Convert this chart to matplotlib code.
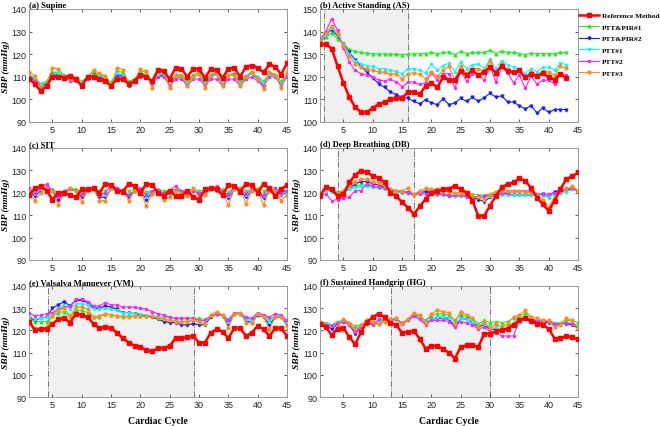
import numpy as np
import matplotlib
matplotlib.use("Agg")
import matplotlib.pyplot as plt

cycle = np.arange(1, 46)
cycle_b = np.arange(1, 44)

# (a) Supine
a_ref = [109, 107, 103.5, 106, 110, 110, 109.5, 110.5, 109, 106, 110, 110, 109, 108, 106, 109, 109, 107, 108, 111,
         110, 108, 113, 112.5, 109, 114, 113.5, 110, 113.5, 113.5, 109.5, 113.5, 113, 109.5, 113.5, 114, 110, 114.5, 115, 114,
         112, 115.5, 114.5, 111, 116]
a_pir1 = [111, 109.5, 107, 108, 112, 112, 111, 110, 109.5, 108, 110, 112, 111, 110, 107.5, 112.5, 112, 108, 109, 112.5,
          112, 108, 112, 111.5, 108, 111, 111, 108, 111, 112, 108, 111, 111.5, 108.5, 111, 111.5, 108, 110.5, 112, 110,
          108, 111.5, 111, 108, 111]
a_pir2 = [110, 108.5, 106, 107, 111, 111, 110, 109, 108.5, 106.5, 109.5, 111, 110, 109, 106.5, 111, 110.5, 106.5, 108, 111,
          110.5, 107, 110.5, 110.5, 106.5, 110, 110, 106.5, 110, 111, 106.5, 110.5, 111, 107, 110.5, 111, 106.5, 110, 111.5, 109,
          106, 111, 110.5, 106.5, 110.5]
a_ptt1 = [110.5, 109, 106.5, 107.5, 111, 111.5, 110.5, 109.5, 109, 107, 109.5, 111, 110.5, 109.5, 107, 111.5, 111, 107, 108.5, 111.5,
          111, 107.5, 111, 111, 107, 110, 110.5, 107, 110, 111, 107, 110.5, 111, 107.5, 110.5, 111, 107, 110, 111.5, 109.5,
          107, 111, 110.5, 107, 110.5]
a_ptt2 = [110, 108, 105.5, 106.5, 110.5, 110.5, 110, 108, 108, 106, 109, 110, 109.5, 108, 106, 110, 110, 106, 108, 110,
          110, 107, 110, 110, 106, 109, 109, 106, 109, 109, 106, 109, 109, 106, 109, 109, 106, 109, 110, 108,
          106, 110, 110, 106, 110]
a_ptt3 = [112, 110.5, 105, 107, 114, 113.5, 110.5, 109, 109, 106, 110, 113, 111.5, 110.5, 106, 114, 113, 107, 108.5, 113.5,
          112.5, 105, 113, 112, 105, 111, 110.5, 106, 110, 111.5, 105, 111, 112, 106, 111, 111, 106, 110, 112, 109,
          104.5, 112, 111, 105, 112]

# (b) Active Standing
b_ref = [134.4, 134.4, 132.5, 124.7, 117.3, 111, 106.6, 104.3, 104.3, 106.2, 107.9, 108.8, 110, 110.4, 110.5, 113.2, 113.4, 112.3, 115.9, 117.3,
         115.3, 119.9, 118.8, 118.5, 122.4, 120.7, 122.8, 120.7, 122.1, 124.3, 121.7, 125, 122.4, 122.1, 122.8, 119.7, 121.4, 120.2, 121.7, 119.7,
         118.8, 121.1, 119.5]
b_pir1 = [135.5, 137.6, 139.5, 136.6, 134.4, 132.2, 131.2, 130.8, 130.5, 130.3, 130.1, 130.1, 130.1, 130, 129.8, 130.1, 130.1, 130.1, 130.3, 130.8,
          130.1, 130.8, 131, 129.8, 131.2, 130.3, 130.8, 130.8, 130.8, 131.8, 130.3, 131.5, 130.8, 130.8, 130.3, 129.8, 130.5, 130.1, 130.3, 130.1,
          130.3, 130.8, 130.8]
b_pir2 = [135.5, 138.7, 140.9, 138, 134.4, 130.8, 127.6, 124.7, 122.1, 119.5, 117, 115.3, 113.4, 112, 111, 110.5, 109.1, 108.1, 109.8, 108.4,
          107.7, 110.3, 107.7, 108.4, 110.5, 109.1, 111, 109.1, 110.8, 112.7, 111, 111.6, 108.8, 108.8, 107.2, 105.8, 107.2, 104, 106.2, 104.3,
          105.5, 105.5, 105.5]
b_ptt1 = [135.5, 138.7, 141.6, 138.7, 134.4, 130, 127.2, 125.7, 125, 124.6, 123.6, 123.6, 122.8, 122.5, 121.4, 123.6, 123.6, 122.8, 121.7, 125.7,
          122.8, 125, 126, 122.1, 126.7, 123.6, 125.3, 125.7, 123.6, 127.9, 123.6, 127.2, 125.3, 124.3, 123.6, 121.4, 123.6, 122.1, 124.3, 124.3,
          122.8, 126, 125.4]
b_ptt2 = [136.6, 140.2, 145.7, 140.5, 132.9, 126.4, 122.8, 121.4, 120.7, 119.9, 118.5, 118.2, 118.9, 117.8, 115.6, 117.5, 117.8, 116.6, 117.3, 121.7,
          118.5, 121.4, 121.4, 114.9, 122.5, 118.1, 121.4, 121.1, 118.5, 124.6, 117.8, 124.3, 121.7, 117.3, 120.7, 114.9, 120.2, 116.8, 118.5, 118.5,
          116.8, 121.1, 120.7]
b_ptt3 = [135.8, 139.5, 142.3, 139.5, 133.7, 129, 125.7, 124.3, 123.6, 122.8, 122.1, 122.1, 121.1, 121.4, 119.2, 121.4, 121.8, 121.1, 119.2, 122.1,
          120.2, 122.8, 124.7, 118.5, 125, 121.4, 123.6, 123.6, 122.5, 127.2, 121.4, 125.7, 123.3, 122.1, 123.1, 119.5, 122.1, 120.7, 122.4, 122.1,
          120.7, 124.6, 124]

# (c) SIT
c_ref = [119, 122, 123, 121, 117, 120, 120, 119, 118, 121.5, 121.5, 122, 120, 124, 123.5, 121, 120.5, 124, 123, 120,
         124, 123.5, 120, 118.5, 121, 118.5, 118.5, 121, 118, 117, 121.5, 122, 121.5, 119, 123.5, 123, 120.5, 124, 123.5, 120,
         124, 122, 118.5, 121.5, 123.5]
c_pir1 = [121, 121, 121.5, 122, 121.5, 120, 121, 122, 121.5, 120.5, 121.5, 122, 121, 121, 122, 121.5, 121.5, 121, 121.5, 121.5,
          120.5, 121, 121.5, 121, 121, 121.5, 121, 121, 121.5, 121, 121, 122, 122, 121.5, 120.5, 122, 122, 121, 121.5, 122,
          121, 121.5, 121.5, 121, 121]
c_pir2 = [121, 118.5, 121, 122, 121, 117, 120, 121.5, 121, 118, 121, 121.5, 118, 118, 121.5, 121, 121, 118, 120.5, 121,
          117, 120, 121, 119, 119.5, 121, 120.5, 119.5, 121, 119.5, 120, 121.5, 121.5, 120.5, 117.5, 121.5, 121.5, 118, 121, 121,
          117.5, 121, 121, 119, 120.5]
c_ptt1 = [121.5, 119.5, 121.5, 122, 121, 118, 120.5, 121.5, 121, 119, 121.5, 121.5, 119, 119, 121.5, 121, 121, 119, 120.5, 121,
          118, 120.5, 121, 119.5, 120, 121, 120.5, 120, 121, 120, 120.5, 121.5, 121.5, 121, 118.5, 121.5, 121.5, 119, 121, 121,
          118.5, 121, 121, 119.5, 120.5]
c_ptt2 = [122, 120, 122, 124, 121, 118, 121, 121.5, 121, 119, 122, 121.5, 119, 120, 123.5, 122, 121, 119, 121, 122,
          119, 121, 121, 120, 121, 123, 121, 120, 121, 120, 120, 122, 123, 121, 119, 122.5, 122, 119.5, 121.5, 121,
          119, 122.5, 122, 120, 121]
c_ptt3 = [121, 116.5, 120, 122, 121, 114.5, 119.5, 122, 121, 116, 121, 122, 116.5, 116.5, 122, 121, 121, 116.5, 121, 121,
          114, 119.5, 121, 117, 118, 121, 120, 118.5, 122, 118, 119, 122, 121, 120, 114.5, 121.5, 122, 115, 121, 121.5,
          114.5, 121, 121, 116.5, 119]

# (d) Deep Breathing
d_ref = [118.7, 122.7, 121.6, 118.4, 119.4, 124.6, 127.9, 129.9, 129.1, 127.6, 126.6, 124.6, 120.1, 118.7, 115.7, 113.4, 110.4, 113.9, 117.2, 120.1,
         120.9, 121.6, 121.9, 123.1, 121.6, 120.1, 116.4, 109.7, 109.7, 114.2, 118.7, 122.4, 123.9, 124.6, 126.4, 125.4, 122.1, 117.9, 114.9, 111.9,
         116.4, 121.6, 126.1, 127.3, 129.1]
d_pir1 = [119, 121.5, 121, 120, 120.5, 122, 123, 123.5, 123.5, 123, 122.5, 122, 121.5, 121, 120.5, 120.5, 119.5, 120.5, 121, 121,
          121, 120.5, 120.5, 120, 120, 120, 119.5, 119, 119, 119.5, 120.5, 121, 121, 121, 121, 120.5, 120, 119.5, 119, 118,
          119.5, 120.5, 121, 122, 121]
d_pir2 = [119, 122, 121, 120, 120, 122, 124, 125, 125, 124, 123.5, 122.5, 121, 120.5, 120.5, 120, 119, 120, 120.5, 120,
          119.5, 119, 118.5, 118.5, 118.5, 118.5, 118, 117, 116, 118, 119, 119.5, 119.5, 119, 119, 119, 119, 119, 119.5, 118.5,
          120.5, 121, 121, 122, 120.5]
d_ptt1 = [119, 121, 120.5, 119.5, 120, 121.5, 122.5, 123, 123, 122.5, 122, 121.5, 121, 120.5, 120, 120, 119.5, 119.5, 119.5, 119.5,
          119, 119, 119, 118.5, 118.5, 118.5, 118.5, 118, 118, 118.5, 119, 119, 119, 119, 119, 119, 119, 119, 119, 118.5,
          119.5, 120, 120.5, 121.5, 121]
d_ptt2 = [119, 119.5, 116.5, 117, 117.5, 118, 121, 121, 124, 123, 122.5, 122, 121.5, 121, 120.5, 120, 119.5, 119.5, 119.5, 119.5,
          119.5, 119.5, 119, 119, 119, 118, 117.5, 118.5, 118.5, 119, 119.5, 120, 120, 120.5, 120.5, 121, 120.5, 119.5, 119.5, 119.5,
          120, 120.5, 122, 122, 121]
d_ptt3 = [119, 122, 121.5, 120, 121, 123, 125, 126, 126, 125, 124.5, 123, 121.5, 121, 121, 122, 119, 121, 122, 121.5,
          121.5, 121, 120.5, 120, 120, 119.5, 118.5, 118, 117, 119, 120.5, 121, 121, 121, 121, 120.5, 120, 119, 117, 113.5,
          118, 121, 121.5, 123, 121]

# (e) Valsalva Manuever
e_ref = [124, 120, 120.5, 120.5, 123, 125, 125.5, 123.5, 127.5, 127, 126, 123, 121, 121.5, 121, 119, 116.5, 114.5, 113, 112.5,
         111, 110.5, 112, 112, 113, 116.5, 116.5, 117, 117.5, 114.5, 114.5, 119, 120.5, 119.5, 116.5, 121, 121, 117.5, 119, 122,
         120.5, 117.5, 121, 121, 117.5]
e_pir1 = [125.5, 124, 124, 124, 126.5, 128, 128.5, 126, 129, 129, 128, 126, 126, 127.5, 127, 126.5, 126.5, 126.5, 126.5, 126.5,
          126.5, 126.5, 126, 126, 126, 125.5, 125.5, 125.5, 125.5, 125.5, 125, 126.5, 127.5, 126.5, 125, 127.5, 127.5, 125.5, 125, 127,
          126.5, 125, 126.5, 126.5, 124.5]
e_pir2 = [126, 124.5, 125.5, 126, 130, 131.5, 133, 131, 133.5, 133.5, 132.5, 130, 130, 131, 130.5, 129.5, 128, 128, 127.5, 127,
          126.5, 126, 125, 124, 123.5, 123.5, 122.5, 122.5, 123, 122.5, 122.5, 126, 127.5, 126.5, 123, 127.5, 127.5, 124.5, 123.5, 127,
          126, 122.5, 126, 126, 123]
e_ptt1 = [126.5, 125, 125.5, 126, 128, 130, 131.5, 129.5, 132, 132, 131.5, 129.5, 129.5, 130, 129.5, 129, 128, 128, 127.5, 127.5,
          127, 126.5, 126, 125, 124.5, 124.5, 124, 124, 124.5, 124, 123.5, 126.5, 127.5, 126.5, 124, 127.5, 127.5, 125, 124.5, 127.5,
          126.5, 124, 126.5, 126.5, 124]
e_ptt2 = [128, 126.5, 127, 127.5, 128, 129.5, 130.5, 131, 134, 134, 133, 131, 131, 132.5, 131.5, 131.5, 130.5, 130.5, 130.5, 130,
          129.5, 128.5, 127.5, 127, 126, 125.5, 125.5, 125.5, 125.5, 124.5, 124.5, 126.5, 127.5, 127, 124.5, 128, 128, 126, 125.5, 128,
          127, 126, 127.5, 127, 124.5]
e_ptt3 = [125, 121, 121, 121.5, 127, 129, 130, 126.5, 130.5, 130.5, 129.5, 126, 126.5, 127.5, 127, 126.5, 126, 126, 126.5, 126.5,
          126.5, 126.5, 125.5, 125, 124.5, 124, 124, 124, 124.5, 124, 123, 127, 128.5, 127, 121, 127.5, 128, 123.5, 123.5, 127.5,
          126, 120.5, 126, 126, 122]

# (f) Sustained Handgrip
f_ref = [123, 121.5, 117.8, 120.8, 121.1, 117, 113.7, 119.3, 123.8, 126, 127.5, 126, 123.3, 122.6, 118.8, 119.3, 119.6, 116.3, 111.8, 113,
         113, 111.5, 110, 107.3, 112.5, 113.3, 113.3, 112.5, 118.5, 118.5, 119.6, 120, 120.8, 122.6, 124.5, 125.6, 124.1, 123, 122.3, 120.8,
         116.3, 116.6, 117.3, 117, 116]
f_pir1 = [124, 123.5, 122.5, 124, 124.5, 123.5, 122, 122.5, 124, 123.5, 124, 124.5, 125, 125, 123.5, 125, 127, 126.5, 124.5, 127,
          127.5, 127.5, 127, 124.5, 127.5, 126, 125.5, 123, 124.5, 123.5, 124, 123.5, 124, 125.5, 126, 128, 125.5, 124.5, 124.5, 124.5,
          123.5, 123.5, 124.5, 124.5, 123.5]
f_pir2 = [123.5, 122.5, 120.5, 123, 124, 122.5, 118.5, 121.5, 123, 123, 123, 124, 124.5, 125, 123, 124.5, 126.5, 125.5, 123, 125,
          125.5, 125.5, 125, 121.5, 125.5, 125, 123.5, 121.5, 122.5, 120.5, 120.5, 120, 120.5, 122.5, 124.5, 125, 124, 124, 123.5, 123.5,
          122.5, 123, 123, 122.5, 121]
f_ptt1 = [124, 123, 122, 123.5, 124, 123, 120, 122, 123.5, 123.5, 123.5, 124, 124.5, 125, 123.5, 124.5, 126.5, 125.5, 123.5, 125,
          126, 126, 125.5, 123, 125.5, 125, 124, 122, 123, 121.5, 121.5, 122, 122, 123.5, 125, 126, 125, 124.5, 124, 124,
          123, 123.5, 123.5, 123, 122]
f_ptt2 = [124, 122.5, 122, 123.5, 124, 122.5, 119.5, 121.5, 123.5, 122.5, 125, 124.5, 124.5, 125, 123.5, 124.5, 126.5, 125, 122.5, 124.5,
          124.5, 124.5, 124, 121.5, 124, 123.5, 122.5, 120.5, 121.5, 119.5, 119, 117.5, 117.5, 117.5, 124.5, 126, 124.5, 124.5, 124, 124,
          123, 123, 123.5, 123, 121.5]
f_ptt3 = [124, 121.5, 118, 122, 125, 123.5, 120.5, 122.5, 124.5, 124, 123, 124, 125, 125.5, 123, 125, 128, 127, 123.5, 127.5,
          129, 128.5, 128, 123.5, 128.5, 127, 125.5, 121.5, 124, 121, 123, 121.5, 123, 126, 127, 129, 126, 125.5, 124.5, 124.5,
          121.5, 122.5, 125.5, 124.5, 121]

names = ['Reference Method', 'PTT&PIR#1', 'PTT&PIR#2', 'PTT#1', 'PTT#2', 'PTT#3']
colors = ['#ff0000', '#22ee22', '#1a1aff', '#00ffff', '#ff22ff', '#ff8c1a']
markers = ['s', '^', 'v', '*', '*', 'o']

titles = ['(a) Supine', '(b) Active Standing (AS)', '(c) SIT', '(d) Deep Breathing (DB)',
          '(e) Valsalva Manuever (VM)', '(f) Sustained Handgrip (HG)']
panels = [
    (cycle, [a_ref, a_pir1, a_pir2, a_ptt1, a_ptt2, a_ptt3], (90, 140), None),
    (cycle_b, [b_ref, b_pir1, b_pir2, b_ptt1, b_ptt2, b_ptt3], (100, 150), (1.6, 16)),
    (cycle, [c_ref, c_pir1, c_pir2, c_ptt1, c_ptt2, c_ptt3], (90, 140), None),
    (cycle, [d_ref, d_pir1, d_pir2, d_ptt1, d_ptt2, d_ptt3], (90, 140), (4, 17)),
    (cycle, [e_ref, e_pir1, e_pir2, e_ptt1, e_ptt2, e_ptt3], (90, 140), (4.2, 29.1)),
    (cycle, [f_ref, f_pir1, f_pir2, f_ptt1, f_ptt2, f_ptt3], (90, 140), (13.1, 30)),
]

serif = 'Liberation Serif'
plt.rcParams['font.family'] = 'Liberation Sans'

fig = plt.figure(figsize=(6.6, 4.27), dpi=100)
W, H = 660, 427
lefts = [29, 320]
rows = [(10, 123), (149, 261), (287, 398)]

for i, (x, series, ylim, span) in enumerate(panels):
    r, c = divmod(i, 2)
    top, bot = rows[r]
    ax = fig.add_axes([lefts[c] / W, 1 - bot / H, 258 / W, (bot - top) / H])
    if span is not None:
        ax.axvspan(span[0], span[1], color='#f0f0f0', zorder=0)
        for v in span:
            ax.axvline(v, color='#777777', ls='-.', lw=0.7, zorder=1)
    # the reference method is drawn last so it sits on top
    for k in [1, 2, 3, 4, 5, 0]:
        if k == 0:
            ax.plot(x, series[k], color=colors[k], marker='s', ms=3.3, lw=1.8, label=names[k], zorder=5)
        else:
            ax.plot(x, series[k], color=colors[k], marker=markers[k], ms=2.0, lw=0.8, label=names[k], zorder=3)
    ax.set_xlim(1, 45)
    ax.set_ylim(*ylim)
    ax.set_xticks(range(5, 46, 5))
    ax.set_yticks(range(ylim[0], ylim[1] + 1, 10))
    ax.tick_params(direction='in', length=2.5, width=0.6, labelsize=6.5, pad=2,
                   top=True, right=True, colors='#444444', labelcolor='#222222')
    for s in ax.spines.values():
        s.set_color('#999999')
        s.set_linewidth(0.7)
    ax.set_ylabel('SBP (mmHg)', fontfamily=serif, fontweight='bold', fontstyle='italic', fontsize=6.8, labelpad=1)
    ax.text(0, 1.0, titles[i], transform=ax.transAxes, ha='left', va='bottom',
            fontfamily=serif, fontweight='bold', fontsize=6.2)
    if r == 2:
        ax.set_xlabel('Cardiac Cycle', fontfamily=serif, fontweight='bold', fontsize=7, labelpad=5)
    if i == 1:
        handles, labels = ax.get_legend_handles_labels()
        order = [labels.index(n) for n in names]
        ax.legend([handles[j] for j in order], names, loc='upper left', bbox_to_anchor=(0.995, 0.99),
                  frameon=False, prop={'family': serif, 'weight': 'bold', 'size': 5.3},
                  handlelength=2.7, handletextpad=0.4, labelspacing=0.72, borderaxespad=0.0,
                  borderpad=0.3)

fig.savefig('out.png', dpi=100)
